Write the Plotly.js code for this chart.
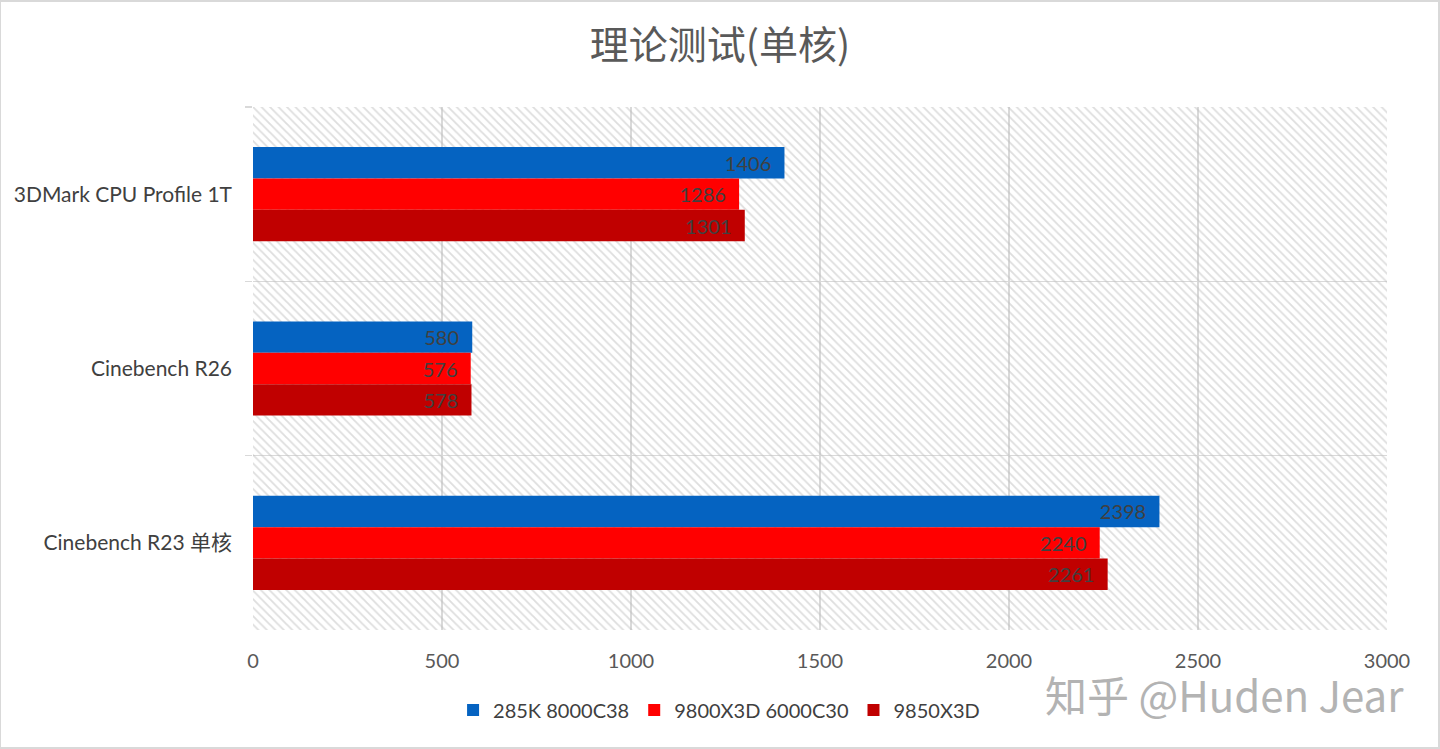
<!DOCTYPE html>
<html>
<head>
<meta charset="utf-8">
<script src="https://cdn.plot.ly/plotly-3.0.1.min.js"></script>
<style>
  html, body { margin: 0; padding: 0; background: #fff; }
  #plot { width: 1440px; height: 749px; }
</style>
</head>
<body>
<div id="plot"></div>
<script>
// test names, top to bottom
var tests = ["3DMark CPU Profile 1T", "Cinebench R26", "Cinebench R23 单核"];

var names = ["285K 8000C38", "9800X3D 6000C30", "9850X3D"];
var colors = ["#0563c1", "#ff0000", "#c00000"];

var s285k = [1406, 580, 2398];
var s9800 = [1286, 576, 2240];
var s9850 = [1301, 578, 2261];

var xMax = 3000;
var bgFill = [xMax, xMax, xMax];

var font = "Lato, 'Noto Sans CJK SC', sans-serif";

// hatched plot background, drawn as a full-width bar per category
var hatch = {
  type: "bar",
  orientation: "h",
  y: tests,
  x: bgFill,
  width: 1,
  yaxis: "y",
  marker: {
    color: "rgba(0,0,0,0)",
    line: { width: 0 },
    pattern: { shape: "\\", fgcolor: "#bdbdbd", bgcolor: "rgba(0,0,0,0)", size: 6, solidity: 0.3, fillmode: "overlay" }
  },
  hoverinfo: "skip",
  showlegend: false
};

function series(vals, i) {
  return {
    type: "bar",
    orientation: "h",
    name: names[i],
    y: tests,
    x: vals,
    yaxis: "y2",
    marker: { color: colors[i], line: { width: 0 } },
    texttemplate: "%{x}\u00a0\u00a0",
    textposition: "inside",
    insidetextanchor: "end",
    textfont: { family: font, size: 20, color: "#404040" },
    cliponaxis: false
  };
}

var data = [hatch, series(s285k, 0), series(s9800, 1), series(s9850, 2)];

var layout = {
  width: 1440,
  height: 749,
  paper_bgcolor: "#fff",
  plot_bgcolor: "#fff",
  margin: { l: 253, r: 53, t: 107, b: 119 },
  title: {
    text: "理论测试(单核)",
    font: { family: "'Noto Sans CJK SC', sans-serif", size: 39, color: "#595959" },
    x: 0.5, xanchor: "center",
    y: 0.94, yanchor: "middle"
  },
  barmode: "group",
  bargap: 0.46,
  bargroupgap: 0,
  xaxis: {
    range: [0, xMax],
    dtick: 500,
    showgrid: true,
    gridcolor: "#d9d9d9",
    gridwidth: 1.5,
    zeroline: false,
    showline: false,
    ticks: "",
    tickfont: { family: font, size: 20, color: "#595959" },
    ticklabelstandoff: 17
  },
  yaxis: {
    type: "category",
    categoryorder: "array",
    categoryarray: tests,
    autorange: "reversed",
    showticklabels: false,
    showgrid: false,
    zeroline: false,
    showline: false,
    fixedrange: true
  },
  yaxis2: {
    type: "category",
    categoryorder: "array",
    categoryarray: tests,
    autorange: "reversed",
    overlaying: "y",
    side: "left",
    tickson: "boundaries",
    ticks: "outside",
    ticklen: 7,
    tickcolor: "#d9d9d9",
    tickwidth: 1.5,
    showgrid: true,
    gridcolor: "#d9d9d9",
    gridwidth: 1.5,
    zeroline: false,
    showline: false,
    tickfont: { family: font, size: 21, color: "#404040" },
    ticklabelstandoff: 20
  },
  legend: {
    orientation: "h",
    x: 0.411, xanchor: "center",
    y: -0.153, yanchor: "middle",
    font: { family: font, size: 20, color: "#404040" },
    itemwidth: 30,
    traceorder: "normal"
  },
  annotations: [{
    text: "知乎 @Huden Jear",
    xref: "paper", yref: "paper",
    x: 1.017, xanchor: "right",
    y: -0.122, yanchor: "middle",
    showarrow: false,
    font: { family: "'Noto Sans CJK SC', sans-serif", size: 42, color: "#b3b3b3" }
  }],
  shapes: [{
    type: "rect", xref: "paper", yref: "paper",
    x0: -253 / 1134, x1: 1 + 52 / 1134,
    y0: -118 / 523, y1: 1 + 106 / 523,
    line: { color: "#d9d9d9", width: 2 },
    layer: "below"
  }]
};

Plotly.newPlot("plot", data, layout, { displayModeBar: false, staticPlot: true });
</script>
</body>
</html>
